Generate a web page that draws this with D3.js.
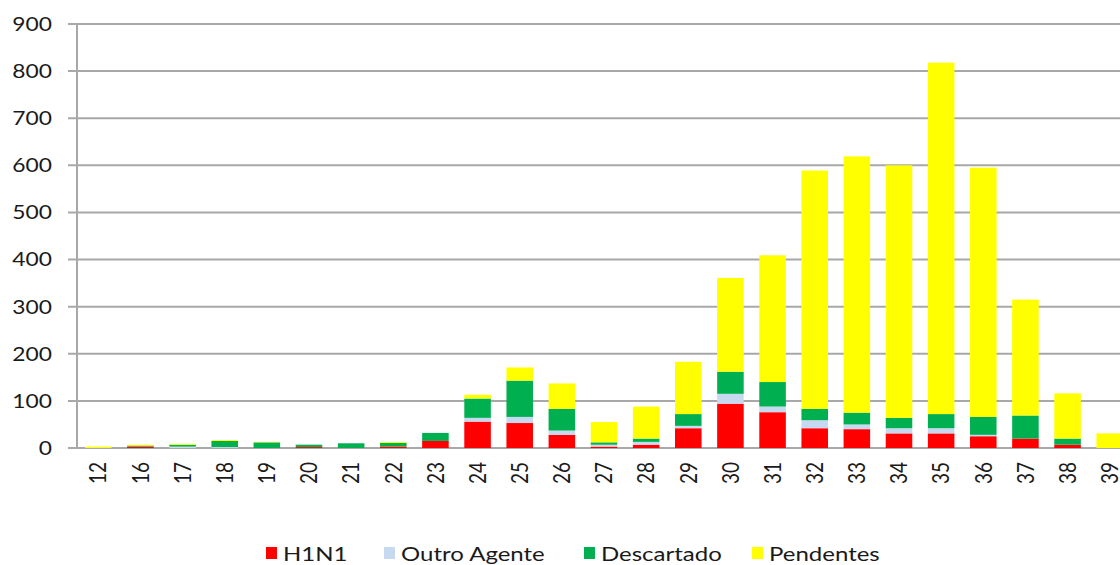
<!DOCTYPE html>
<html>
<head>
<meta charset="utf-8">
<script src="https://d3js.org/d3.v7.min.js"></script>
<style>
  body { margin: 0; background: #fff; overflow: hidden; }
  text { font-family: Lato, "Open Sans", sans-serif; fill: #1a1a1a; }
</style>
</head>
<body>
<svg id="plot1" style="width:1120px;height:565px;display:block"></svg>
<script>
var weeks = ["12","16","17","18","19","20","21","22","23","24","25","26","27","28","29","30","31","32","33","34","35","36","37","38","39"];
var h1n1       = [0,3,0,0,0,2,0,3,15,56,53,28,3,7,42,94,76,42,40,31,31,25,20,7,0];
var outro      = [0,0,3,2,0,0,0,0,0,8,13,9,4,6,5,21,12,17,10,11,11,3,0,0,0];
var descartado = [0,2,4,13,12,5,10,8,17,41,77,46,5,7,25,47,52,24,25,22,30,38,49,13,0];
var pendentes  = [3,2,2,2,1,0,0,2,0,8,28,54,43,68,111,199,269,506,544,536,746,529,246,96,31];
var yTicks = [0,100,200,300,400,500,600,700,800,900];
var seriesNames = ["H1N1","Outro Agente","Descartado","Pendentes"];
var seriesColors = ["#ff0000","#c6d9f1","#00b050","#ffff00"];

function makeChart(){
    var svg = d3.select("#plot1");
    var container = svg.append("g");
    var width = parseFloat(svg.node().style.width);

    var rows = weeks.map(function(w, i){
        return {week: w, "H1N1": h1n1[i], "Outro Agente": outro[i], "Descartado": descartado[i], "Pendentes": pendentes[i]};
    });
    var stacked = d3.stack().keys(seriesNames)(rows);

    var xScale = d3.scaleBand()
        .domain(weeks)
        .range([77, 1131])
        .paddingInner(0.37)
        .paddingOuter(0.19);

    var yScale = d3.scaleLinear()
        .domain([0, 900])
        .range([448, 24]);

    // gridlines + tick marks
    container.selectAll(".grid")
        .data(yTicks)
        .enter()
        .append("line")
        .attr("x1", 68)
        .attr("x2", width)
        .attr("y1", function(d){ return yScale(d); })
        .attr("y2", function(d){ return yScale(d); })
        .attr("stroke", "#a8a8a8")
        .attr("stroke-width", 2);

    container.append("line")
        .attr("x1", 77).attr("x2", 77)
        .attr("y1", yScale(900)).attr("y2", yScale(0))
        .attr("stroke", "#a8a8a8")
        .attr("stroke-width", 2);

    container.selectAll(".ylab")
        .data(yTicks)
        .enter()
        .append("text")
        .attr("transform", function(d){ return "translate(52," + yScale(d) + ") scale(1.2,1)"; })
        .attr("text-anchor", "end")
        .attr("dy", "0.36em")
        .style("font-size", "19px")
        .text(function(d){ return d; });

    // stacked bars
    container.selectAll(".series")
        .data(stacked)
        .enter()
        .append("g")
        .attr("fill", function(d, i){ return seriesColors[i]; })
        .selectAll("rect")
        .data(function(d){ return d; })
        .enter()
        .append("rect")
        .attr("x", function(d){ return xScale(d.data.week); })
        .attr("width", xScale.bandwidth())
        .attr("y", function(d){ return yScale(d[1]); })
        .attr("height", function(d){ return yScale(d[0]) - yScale(d[1]); });

    // x labels, rotated
    container.selectAll(".xlab")
        .data(weeks)
        .enter()
        .append("text")
        .attr("transform", function(d){
            return "translate(" + (xScale(d) + xScale.bandwidth()/2) + ",462) scale(1.2,1) rotate(-90)";
        })
        .attr("text-anchor", "end")
        .attr("dy", "0.36em")
        .style("font-size", "19px")
        .text(function(d){ return d; });

    // legend
    var legendX = [266, 384, 584, 752];
    var legend = container.selectAll(".legend")
        .data(seriesNames)
        .enter()
        .append("g")
        .attr("transform", function(d, i){ return "translate(" + legendX[i] + ",547)"; });

    legend.append("rect")
        .attr("width", 11)
        .attr("height", 12)
        .attr("fill", function(d, i){ return seriesColors[i]; });

    legend.append("text")
        .attr("transform", "translate(17,14) scale(1.2,1)")
        .style("font-size", "20px")
        .text(function(d){ return d; });
}

makeChart();
</script>
</body>
</html>
